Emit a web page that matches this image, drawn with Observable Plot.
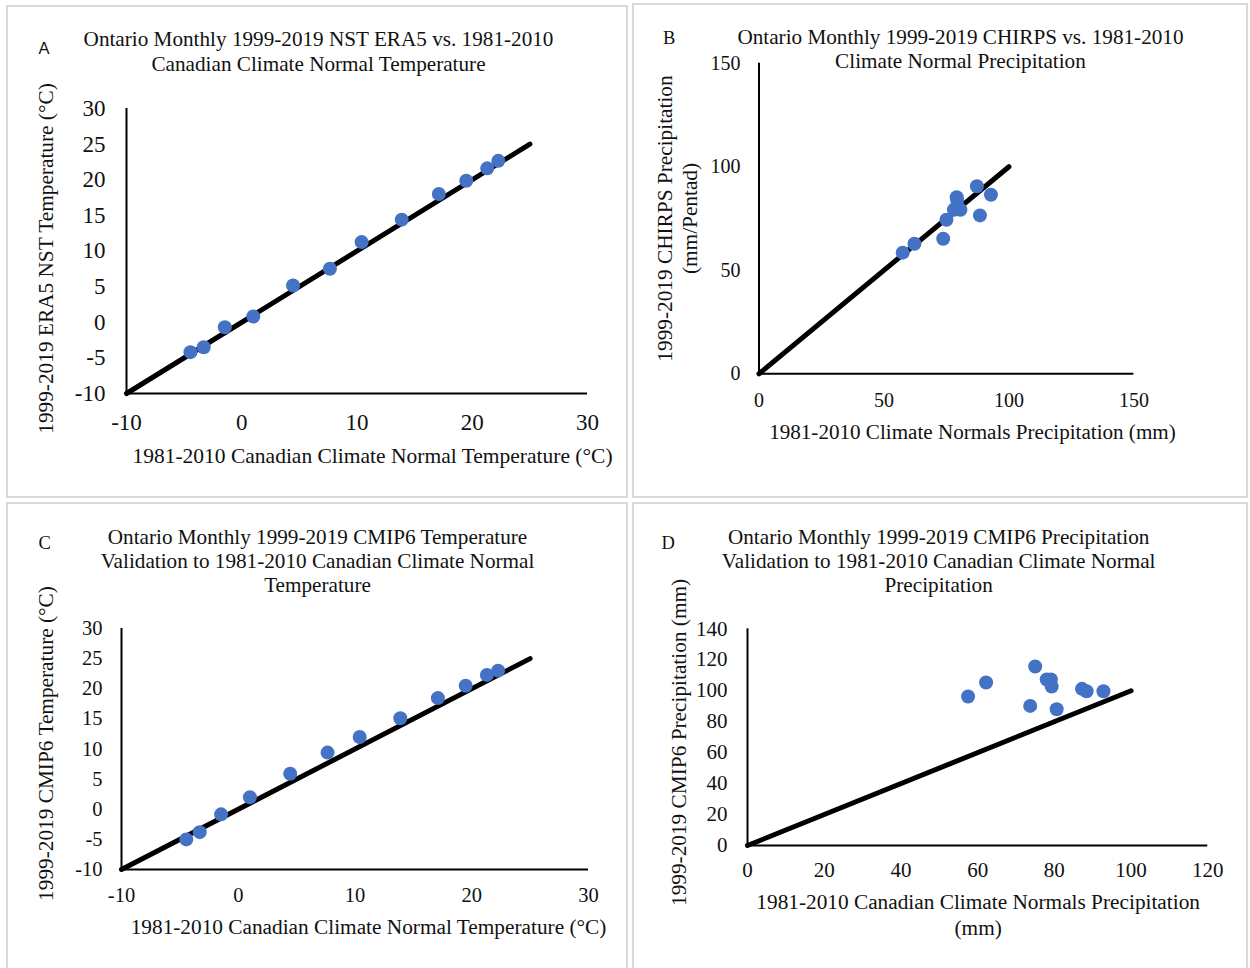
<!DOCTYPE html>
<html>
<head>
<meta charset="utf-8">
<script src="https://cdn.jsdelivr.net/npm/d3@7"></script>
<script src="https://cdn.jsdelivr.net/npm/@observablehq/plot@0.6"></script>
<style>
  html, body { margin: 0; padding: 0; background: #fff; }
  #root { position: relative; width: 1250px; height: 968px; background: #fff; overflow: hidden; }
  .box { position: absolute; border: 2px solid #d9d9d9; box-sizing: border-box; pointer-events: none; z-index: 5; }
</style>
</head>
<body>
<div id="root"></div>
<script>
// ---------- data ----------
// monthly 1981-2010 Canadian climate normal temperature (°C)
const tempNormals = [-4.45, -3.3, -1.47, 1.0, 4.45, 7.65, 10.4, 13.88, 17.1, 19.48, 21.3, 22.26];
// 1999-2019 ERA5 NST temperature (°C)
const era5Temps = [-4.2, -3.5, -0.7, 0.8, 5.15, 7.5, 11.25, 14.4, 18.0, 19.85, 21.6, 22.65];
// 1999-2019 CMIP6 temperature (°C)
const cmip6Temps = [-5.0, -3.8, -0.85, 2.0, 5.9, 9.4, 12.0, 15.1, 18.45, 20.5, 22.3, 23.0];

// monthly 1981-2010 climate normal precipitation (mm)
const precipNormals = [57.5, 62.2, 73.7, 75.0, 78.0, 79.1, 79.3, 80.6, 87.2, 88.4, 92.8];
// 1999-2019 CHIRPS precipitation
const chirpsPrecip = [58.5, 62.8, 65.2, 74.4, 79.2, 85.3, 83.7, 79.2, 90.6, 76.5, 86.5];
// 1999-2019 CMIP6 precipitation (mm)
const cmip6Precip = [96.3, 105.3, 90.2, 115.6, 107.2, 107.2, 102.7, 88.0, 101.2, 99.7, 99.7];

// 1:1 reference lines (start, end)
const tempRefLine = [-10, 25];
const precipRefLine = [0, 100];

// ticks
const tempXTicks = [-10, 0, 10, 20, 30];
const tempYTicks = [-10, -5, 0, 5, 10, 15, 20, 25, 30];
const chirpsTicks = [0, 50, 100, 150];
const cmipPrecipXTicks = [0, 20, 40, 60, 80, 100, 120];
const cmipPrecipYTicks = [0, 20, 40, 60, 80, 100, 120, 140];

// texts
const panelLetters = ["A", "B", "C", "D"];
const titleA = "Ontario Monthly 1999-2019 NST ERA5 vs. 1981-2010\nCanadian Climate Normal Temperature";
const titleB = "Ontario Monthly 1999-2019 CHIRPS vs. 1981-2010\nClimate Normal Precipitation";
const titleC = "Ontario Monthly 1999-2019 CMIP6 Temperature\nValidation to 1981-2010 Canadian Climate Normal\nTemperature";
const titleD = "Ontario Monthly 1999-2019 CMIP6 Precipitation\nValidation to 1981-2010 Canadian Climate Normal\nPrecipitation";
const xTitleA = "1981-2010 Canadian Climate Normal Temperature (°C)";
const yTitleA = "1999-2019 ERA5 NST Temperature (°C)";
const xTitleB = "1981-2010 Climate Normals Precipitation (mm)";
const yTitleB = "1999-2019 CHIRPS Precipitation\n(mm/Pentad)";
const xTitleC = "1981-2010 Canadian Climate Normal Temperature (°C)";
const yTitleC = "1999-2019 CMIP6 Temperature (°C)";
const xTitleD = "1981-2010 Canadian Climate Normals Precipitation\n(mm)";
const yTitleD = "1999-2019 CMIP6 Precipitation (mm)";

// ---------- drawing ----------
const serif = "'Liberation Serif', 'Times New Roman', Times, serif";
const sans = "'Liberation Sans', Arial, sans-serif";
const ink = "#111";

function panel(p) {
  const pts = p.xs.map((x, i) => ({x, y: p.ys[i]}));
  const ref = p.line.map(v => ({x: v, y: v}));
  return Plot.plot({
    width: p.w, height: p.h,
    marginLeft: p.m[0], marginRight: p.m[1], marginTop: p.m[2], marginBottom: p.m[3],
    x: {domain: p.xDomain},
    y: {domain: p.yDomain},
    style: {position: "absolute", left: p.left + "px", top: p.top + "px",
            background: "transparent", maxWidth: "none", overflow: "visible"},
    marks: [
      Plot.ruleX([p.xDomain[0]], {stroke: "#000", strokeWidth: 2}),
      Plot.ruleY([p.yDomain[0]], {stroke: "#000", strokeWidth: 2}),
      Plot.axisX({ticks: p.xTicks, tickFormat: d => String(d), tickSize: 0, tickPadding: p.xPad,
                  fontSize: p.tickFont, fontFamily: serif, fill: ink, label: null}),
      Plot.axisY({ticks: p.yTicks, tickFormat: d => String(d), tickSize: 0, tickPadding: p.yPad,
                  fontSize: p.tickFont, fontFamily: serif, fill: ink, label: null}),
      Plot.line(ref, {x: "x", y: "y", stroke: "#000", strokeWidth: 5, strokeLinecap: "round"}),
      Plot.dot(pts, {x: "x", y: "y", r: 7, fill: "#4472C4"}),
      Plot.text([p.letter], {text: d => d, frameAnchor: "top-left", dx: p.letterPos[0], dy: p.letterPos[1],
                  textAnchor: "start", lineAnchor: "bottom", fontSize: p.letterFont,
                  fontFamily: p.letterFamily, fill: ink}),
      Plot.text([p.title], {text: d => d, frameAnchor: "top", dx: p.titlePos[0], dy: p.titlePos[1],
                  textAnchor: "middle", lineAnchor: "bottom", lineHeight: p.titleLH, fontSize: 21.2,
                  fontFamily: serif, fill: ink}),
      Plot.text([p.xTitle], {text: d => d, frameAnchor: "bottom", dx: p.xTitlePos[0], dy: p.xTitlePos[1],
                  textAnchor: "middle", lineAnchor: "bottom", lineHeight: 25 / 21, fontSize: p.xTitleFont,
                  fontFamily: serif, fill: ink}),
      Plot.text([p.yTitle], {text: d => d, frameAnchor: "left", dx: p.yTitlePos[0], dy: p.yTitlePos[1],
                  rotate: -90, textAnchor: "middle", lineAnchor: "bottom", lineHeight: 24 / 21,
                  fontSize: 21.3, fontFamily: serif, fill: ink})
    ]
  });
}

const root = document.getElementById("root");

root.appendChild(panel({
  left: 0, top: 0, w: 630, h: 500, m: [126, 43, 108, 107],
  xDomain: [-10, 30], yDomain: [-10, 30], xTicks: tempXTicks, yTicks: tempYTicks,
  tickFont: 23, xPad: 20, yPad: 21,
  xs: tempNormals, ys: era5Temps, line: tempRefLine,
  letter: panelLetters[0], letterFont: 16.5, letterFamily: sans, letterPos: [-88, -55],
  title: titleA, titlePos: [-38.5, -38], titleLH: 25 / 21.2,
  xTitle: xTitleA, xTitleFont: 21.5, xTitlePos: [15.5, 69],
  yTitle: yTitleA, yTitlePos: [-74, 7.5]
}));

root.appendChild(panel({
  left: 630, top: 0, w: 620, h: 500, m: [128.5, 116.6, 62.7, 126.7],
  xDomain: [0, 150], yDomain: [0, 150], xTicks: chirpsTicks, yTicks: chirpsTicks,
  tickFont: 20, xPad: 18.5, yPad: 18.5,
  xs: precipNormals, ys: chirpsPrecip, line: precipRefLine,
  letter: panelLetters[1], letterFont: 18.5, letterFamily: serif, letterPos: [-96, -19.7],
  title: titleB, titlePos: [14, 4.3], titleLH: 24 / 21.2,
  xTitle: xTitleB, xTitleFont: 21.1, xTitlePos: [26, 64.7],
  yTitle: yTitleB, yTitlePos: [-62.5, 0]
}));

root.appendChild(panel({
  left: 0, top: 500, w: 630, h: 468, m: [121, 42, 128, 99],
  xDomain: [-10, 30], yDomain: [-10, 30], xTicks: tempXTicks, yTicks: tempYTicks,
  tickFont: 20.5, xPad: 18.4, yPad: 19,
  xs: tempNormals, ys: cmip6Temps, line: tempRefLine,
  letter: panelLetters[2], letterFont: 18.5, letterFamily: serif, letterPos: [-83, -80],
  title: titleC, titlePos: [-37.5, -37], titleLH: 24 / 21.2,
  xTitle: xTitleC, xTitleFont: 21.3, xTitlePos: [13.5, 64],
  yTitle: yTitleC, yTitlePos: [-69, -5.5]
}));

root.appendChild(panel({
  left: 630, top: 500, w: 620, h: 468, m: [117, 42.7, 128.3, 123],
  xDomain: [0, 120], yDomain: [0, 140], xTicks: cmipPrecipXTicks, yTicks: cmipPrecipYTicks,
  tickFont: 21, xPad: 17, yPad: 20,
  xs: precipNormals, ys: cmip6Precip, line: precipRefLine,
  letter: panelLetters[3], letterFont: 18.5, letterFamily: serif, letterPos: [-86, -80.3],
  title: titleD, titlePos: [-39, -37.3], titleLH: 24 / 21.2,
  xTitle: xTitleD, xTitleFont: 21.3, xTitlePos: [0.5, 89],
  yTitle: yTitleD, yTitlePos: [-62, 5.3]
}));

// panel frames
[[6, 5, 622, 493], [632, 3, 616, 495], [6, 502, 622, 470], [632, 502, 616, 470]].forEach(([l, t, w, h]) => {
  const d = document.createElement("div");
  d.className = "box";
  Object.assign(d.style, {left: l + "px", top: t + "px", width: w + "px", height: h + "px"});
  root.appendChild(d);
});
</script>
</body>
</html>
